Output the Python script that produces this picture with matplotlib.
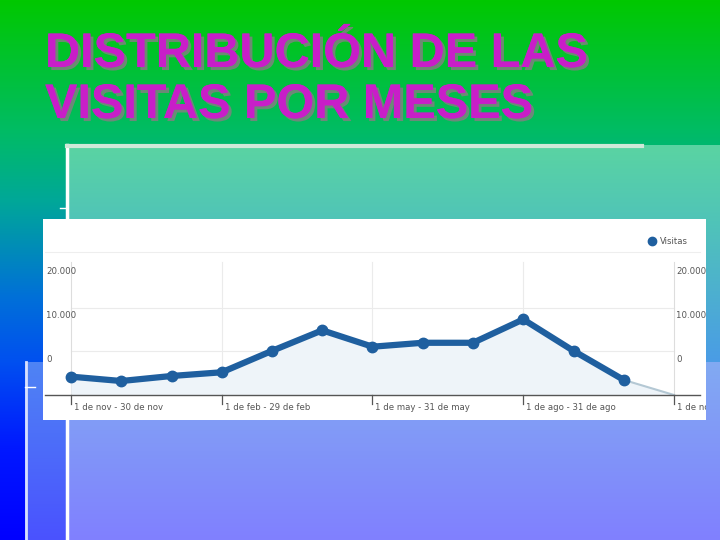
import numpy as np
import matplotlib
matplotlib.use("Agg")
import matplotlib.pyplot as plt
import matplotlib.patheffects as pe
from matplotlib.colors import to_rgb
from matplotlib.patches import Rectangle

# data (visits per month, nov -> nov)
months = ['nov', 'dic', 'ene', 'feb', 'mar', 'abr', 'may', 'jun', 'jul', 'ago', 'sep', 'oct', 'nov']
visitas = [4200, 3200, 4350, 5200, 10100, 14800, 11050, 11950, 11950, 17300, 10100, 3450, 0]
tick_idx = [0, 3, 6, 9, 12]
tick_labels = ['1 de nov - 30 de nov', '1 de feb - 29 de feb', '1 de may - 31 de may',
               '1 de ago - 31 de ago', '1 de nov - 30 de nov']
y_ticks = [0, 10000, 20000]
y_labels = ['0', '10.000', '20.000']
title_lines = ['DISTRIBUCIÓN DE LAS', 'VISITAS POR MESES']

W, H = 720, 540
fig = plt.figure(figsize=(7.2, 5.4), dpi=100)

# background slide
bg = fig.add_axes([0, 0, 1, 1])
bg.set_xlim(0, W)
bg.set_ylim(H, 0)
bg.axis('off')


def grad(stops, n=300):
    # stops: list of (pos 0..1, color)
    pos = [s[0] for s in stops]
    cols = np.array([to_rgb(s[1]) for s in stops])
    t = np.linspace(0, 1, n)
    arr = np.stack([np.interp(t, pos, cols[:, i]) for i in range(3)], axis=-1)
    return arr[:, None, :]


def panel(x0, x1, y0, y1, stops):
    bg.imshow(grad(stops), extent=(x0, x1, y1, y0), aspect='auto', zorder=0)


panel(0, W, 0, H, [(0, '#00c800'), (0.24, '#00bc64'), (0.37, '#00a898'),
                   (0.55, '#0070d8'), (0.67, '#0050f0'), (0.83, '#0018ff'), (1, '#0000ff')])
panel(67, W, 145, 362, [(0, '#5ad4a2'), (0.35, '#50c4b8'), (1, '#4a9ce6')])
panel(67, W, 362, H, [(0, '#82aaf2'), (1, '#8080ff')])
panel(25, 67, 362, H, [(0, '#4f84f4'), (1, '#4a52ff')])
bg.plot([67, 67], [145, H], color='white', lw=2.5, zorder=1)
bg.plot([26, 26], [362, H], color='#d8e0ff', lw=2, zorder=1)
bg.plot([67, 642], [146, 146], color='#cfe8d8', lw=3, zorder=1)
bg.plot([60, 67], [208, 208], color='white', lw=1, zorder=1)
bg.plot([25, 35], [387, 387], color='white', lw=1, zorder=1)

# title with grey drop shadow
shadow = [pe.withSimplePatchShadow(offset=(2.2, -2.2), shadow_rgbFace='#808080', alpha=0.85), pe.Normal()]
for line, yb in zip(title_lines, [67, 118]):
    bg.text(45, yb, line, fontsize=35, fontweight='bold', family='Liberation Sans',
            color='#c81ec8', va='baseline', ha='left', path_effects=shadow)

# white screenshot box
box = (43, 219, 706, 420)
bg.add_patch(Rectangle((box[0], box[1]), box[2] - box[0], box[3] - box[1],
                       facecolor='white', edgecolor='none', zorder=2))

# chart axes covering the white box
x_first, x_step = 71, (674 - 71) / 12
y_base, y_scale = 395, 43.7 / 10000
ax = fig.add_axes([box[0] / W, 1 - box[3] / H, (box[2] - box[0]) / W, (box[3] - box[1]) / H])
ax.patch.set_alpha(0)
ax.set_xlim((box[0] - x_first) / x_step, (box[2] - x_first) / x_step)
ax.set_ylim((y_base - box[3]) / y_scale, (y_base - box[1]) / y_scale)
ax.axis('off')

small = dict(fontsize=6.8, color='#555555', family='DejaVu Sans', fontstretch='condensed')

xs = np.arange(len(months))
top_val = (y_base - 262) / y_scale
grid_c = '#ebebeb'
for v in y_ticks[1:]:
    ax.plot([0, 12], [v, v], color=grid_c, lw=0.8, zorder=1)
sep = (y_base - 252) / y_scale
ax.plot([(45 - x_first) / x_step, (700 - x_first) / x_step], [sep, sep], color='#eeeeee', lw=0.8)
for i in tick_idx:
    ax.plot([i, i], [0, top_val], color=grid_c if i not in (0, 12) else '#dddddd', lw=0.8, zorder=1)

# area + line
ax.fill_between(xs, visitas, 0, color='#eef4f9', zorder=2, lw=0)
ax.plot(xs[:-1], visitas[:-1], color='#1f5f9f', lw=4.5, marker='o', ms=7.5, zorder=4)
ax.plot(xs[-2:], visitas[-2:], color='#b4c8d4', lw=1.5, zorder=3)

# baseline and ticks
ax.plot([(45 - x_first) / x_step, (700 - x_first) / x_step], [0, 0], color='#555555', lw=1, zorder=5)
tick_len = 9 / y_scale
for i, lab in zip(tick_idx, tick_labels):
    ax.plot([i, i], [0, -tick_len], color='#555555', lw=0.9, zorder=5)
    t = ax.text(i + 3 / x_step, -13 / y_scale, lab, ha='left', va='center', **small)
    t.set_clip_on(True)
    t.set_clip_box(ax.bbox)

# y labels sit above their gridlines in the screenshot
lab_shift = 36 / y_scale
for v, lab in zip(y_ticks, y_labels):
    ax.text((46 - x_first) / x_step, v + lab_shift, lab, ha='left', va='center', **small)
    ax.text((676 - x_first) / x_step, v + lab_shift, lab, ha='left', va='center', **small)

# legend
leg_y = (y_base - 241) / y_scale
ax.plot([(652 - x_first) / x_step], [leg_y], 'o', color='#1f5f9f', ms=6)
ax.text((660 - x_first) / x_step, leg_y, 'Visitas', ha='left', va='center', **small)

fig.savefig('out.png', dpi=100)
